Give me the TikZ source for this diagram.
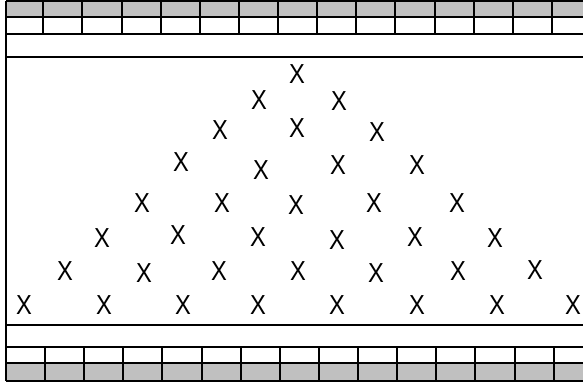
\documentclass[tikz,border=0pt]{standalone}
\usepackage{fontspec}
\setmainfont{Liberation Sans}
\newfontfamily\atomfont[FakeStretch=0.86]{Liberation Sans}
\usetikzlibrary{positioning}
\definecolor{cellgray}{RGB}{192,192,192}
\tikzset{
    wall/.style={line width=2pt, black},
    atom/.style={inner sep=0pt, font=\atomfont\fontsize{27.5}{27.5}\selectfont}
}
\begin{document}
\begin{tikzpicture}[x=1pt, y=-1pt]
    \useasboundingbox (0,0) rectangle (583,383);

    % top wall cells
    \fill[cellgray] (6,1) rectangle (585,17);
    \draw[wall] (6,1) -- (585,1) (6,17) -- (585,17) (6,34) -- (585,34) (6,57) -- (585,57);
    \foreach \k in {0,...,13}
        \draw[wall] (43.3+39.13*\k,1) -- (43.3+39.13*\k,34);

    % bottom wall cells
    \fill[cellgray] (6,363) rectangle (585,381);
    \draw[wall] (6,325) -- (585,325) (6,347) -- (585,347) (6,363) -- (585,363) (6,381) -- (585,381);
    \foreach \k in {0,...,13}
        \draw[wall] (45+39.13*\k,347) -- (45+39.13*\k,381);

    \draw[wall] (6,1) -- (6,381);

    % particles
    \foreach \px/\py [count=\i] in {
        297/74,
        259/100, 339/101,
        220/130, 297/128, 377/132,
        181/162, 261/170, 338/165, 417/165,
        142/203, 222/203, 296/205, 374/203, 457/203,
        102/238, 178/235, 258/237, 337/240, 415/237, 495/238,
        65/271, 144/273, 219/271, 298/271, 376/273, 458/271, 535/270,
        24/305, 104/305, 183/305, 258/305, 337/305, 417/305, 497/305, 573/305}
        \node[atom] (x\i) at (\px,\py) {X};
\end{tikzpicture}
\end{document}
